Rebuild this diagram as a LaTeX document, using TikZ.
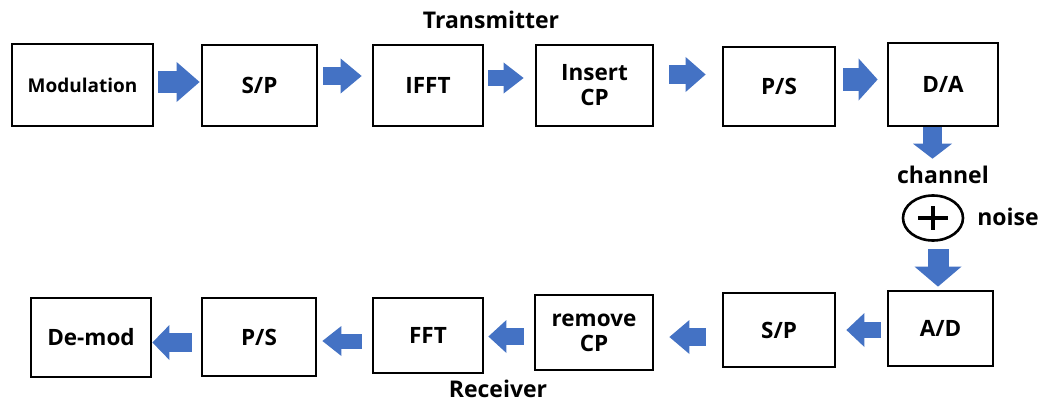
\documentclass[tikz,border=0pt]{standalone}
\usepackage{fontspec}
\setmainfont{Open Sans}
\usetikzlibrary{arrows.meta,shapes.geometric}
\definecolor{arrowblue}{HTML}{4472C4}
\tikzset{
  blockbox/.style={draw=black, line width=2.8pt, rectangle, inner sep=0pt,
    align=center, font=\bfseries\fontsize{22.5}{25}\selectfont},
  caption/.style={inner sep=0pt, font=\bfseries\fontsize{23}{25}\selectfont},
  fat/.style n args={3}{draw=arrowblue, line width=#1,
    -{Triangle[length=#3, width=#2, line width=0pt]}},
}
\begin{document}
\begin{tikzpicture}[x=1pt, y=-1pt]
  \path[use as bounding box, fill=white] (0,0) rectangle (1049,404);

  % transmitter chain
  \node[blockbox, minimum width=141pt, minimum height=82pt] (mod)  at (82.5,85)  {\fontsize{19}{21}\selectfont Modulation};
  \node[blockbox, minimum width=115pt, minimum height=81pt] (sp1)  at (259.5,85.5) {S/P};
  \node[blockbox, minimum width=110pt, minimum height=81pt] (ifft) at (428,85.5)  {IFFT};
  \node[blockbox, minimum width=117pt, minimum height=81pt] (icp)  at (594.5,85.5) {Insert\\CP};
  \node[blockbox, minimum width=112pt, minimum height=79pt] (ps1)  at (779,86.5) {P/S};
  \node[blockbox, minimum width=110pt, minimum height=83pt] (da)   at (943,84.5) {D/A};

  % receiver chain
  \node[blockbox, minimum width=120pt, minimum height=79pt] (demod) at (91,337.5) {De-mod};
  \node[blockbox, minimum width=114pt, minimum height=78pt] (ps2)   at (259,337) {P/S};
  \node[blockbox, minimum width=110pt, minimum height=75pt] (fft)   at (428,335.5) {FFT};
  \node[blockbox, minimum width=118pt, minimum height=75pt] (rcp)   at (594,332.5) {remove\\CP};
  \node[blockbox, minimum width=112pt, minimum height=74pt] (sp2)   at (779,330) {S/P};
  \node[blockbox, minimum width=105pt, minimum height=75pt] (ad)    at (940.5,328.5) {A/D};

  % channel with additive noise
  \node[draw=black, line width=2.6pt, ellipse, inner sep=0pt,
        minimum width=60pt, minimum height=45pt] (sum) at (933,218) {};
  \draw[line width=3.6pt] ([xshift=-15pt]sum.center) -- ([xshift=15pt]sum.center);
  \draw[line width=3.6pt] ([yshift=12pt]sum.center) -- ([yshift=-12pt]sum.center);

  % captions
  \node[caption] (tx)    at (491,20)    {Transmitter};
  \node[caption] (rx)    at (498,389)   {Receiver};
  \node[caption] (chan)  at (943,175)   {channel};
  \node[caption] (noise) at (1008,217)  {noise};

  % block arrows along the transmitter chain
  \path ([yshift=3pt]mod.east)    coordinate (a1);
  \path ([yshift=9.5pt]sp1.east)  coordinate (a2);
  \path ([yshift=7.5pt]ifft.east) coordinate (a3);
  \path ([yshift=11pt]icp.east)   coordinate (a4);
  \path ([yshift=7pt]ps1.east)    coordinate (a5);
  \draw[fat={21pt}{40pt}{23pt}, shorten <=4pt,  shorten >=1pt]  (a1) -- (a1 -| sp1.west);
  \draw[fat={17pt}{35pt}{21pt}, shorten <=5pt,  shorten >=10pt] (a2) -- (a2 -| ifft.west);
  \draw[fat={15pt}{31pt}{20pt}, shorten <=4pt,  shorten >=11pt] (a3) -- (a3 -| icp.west);
  \draw[fat={18pt}{35pt}{20pt}, shorten <=15pt, shorten >=16pt] (a4) -- (a4 -| ps1.west);
  \draw[fat={22pt}{42pt}{19pt}, shorten <=7pt,  shorten >=9pt]  (a5) -- (a5 -| da.west);

  % down through the channel
  \path ([xshift=-10.5pt]da.south) coordinate (a6);
  \path ([xshift=-2.5pt]ad.north)  coordinate (a7);
  \draw[fat={19pt}{39pt}{15pt}, shorten >=35.5pt] (a6) -- (a6 |- sum.north);
  \draw[fat={21pt}{47pt}{20pt}, shorten <=7.5pt, shorten >=3pt] (a7 |- sum.south) -- (a7);

  % block arrows along the receiver chain
  \path ([yshift=-1.5pt]ad.west)  coordinate (b1);
  \path ([yshift=-7pt]sp2.west)   coordinate (b2);
  \path ([yshift=-4pt]rcp.west)   coordinate (b3);
  \path ([yshift=-5.5pt]fft.west) coordinate (b4);
  \path ([yshift=-5.5pt]ps2.west) coordinate (b5);
  \draw[fat={16pt}{34pt}{18pt}, shorten <=6pt,  shorten >=10pt] (b1) -- (b1 -| sp2.east);
  \draw[fat={18pt}{34pt}{20pt}, shorten <=16pt, shorten >=15pt] (b2) -- (b2 -| rcp.east);
  \draw[fat={17pt}{33pt}{18pt}, shorten <=10pt, shorten >=4pt]  (b3) -- (b3 -| fft.east);
  \draw[fat={15pt}{30pt}{19pt}, shorten <=10pt, shorten >=5pt]  (b4) -- (b4 -| ps2.east);
  \draw[fat={19pt}{35pt}{17pt}, shorten <=9pt,  shorten >=0pt]  (b5) -- (b5 -| demod.east);
\end{tikzpicture}
\end{document}
